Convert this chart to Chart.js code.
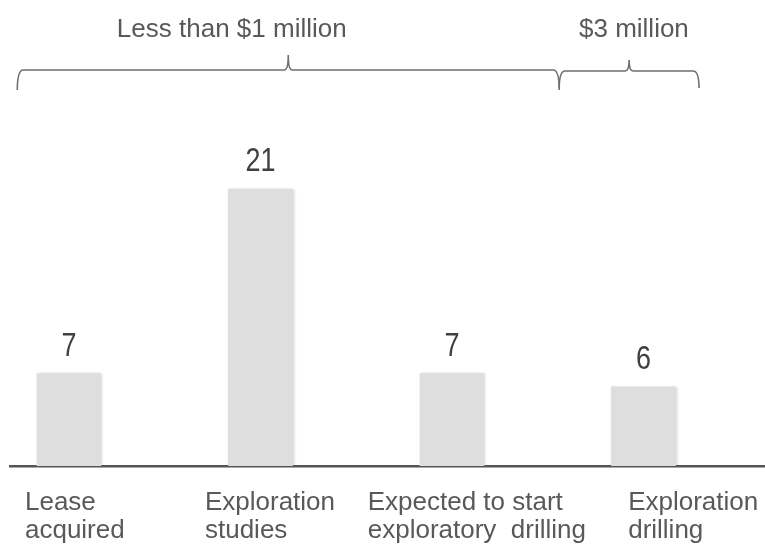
<!DOCTYPE html>
<html>
<head>
<meta charset="utf-8">
<script src="https://cdn.jsdelivr.net/npm/chart.js@4/dist/chart.umd.min.js"></script>
<style>
  html, body { margin: 0; padding: 0; background: #fff; }
  #wrap { width: 765px; height: 549px; position: relative; }
</style>
</head>
<body>
<div id="wrap"><canvas id="stageChart"></canvas></div>
<script>
// data
const stages = [
  ["Lease", "acquired"],
  ["Exploration", "studies"],
  ["Expected to start", "exploratory  drilling"],
  ["Exploration", "drilling"]
];
const counts = [7, 21, 7, 6];
const costGroups = ["Less than $1 million", "$3 million"];
const groupFirst = [0, 3];
const groupLast = [2, 3];

// look
const textColor = "#595959";
const fontFamily = "'Liberation Sans', Arial, sans-serif";
const labelShift = [-0.23, -0.29, -0.44, -0.08]; // left edge of each x label, relative to its bar
const bracketReach = [[-0.27, 0.56], [-0.44, 0.29]];
const groupLabelShift = [-0.15, -0.05];

// bar shadow + value labels + cost brackets
const decorations = {
  id: "decorations",
  beforeDatasetsDraw(chart) {
    const ctx = chart.ctx;
    ctx.save();
    ctx.shadowColor = "rgba(0,0,0,0.2)";
    ctx.shadowBlur = 3;
    ctx.shadowOffsetX = 1;
  },
  afterDatasetsDraw(chart) {
    const ctx = chart.ctx;
    ctx.restore();
    const x = chart.scales.x;
    const meta = chart.getDatasetMeta(0);

    ctx.save();
    ctx.fillStyle = "#404040";
    ctx.font = "27px " + fontFamily;
    ctx.textAlign = "center";
    ctx.textBaseline = "alphabetic";
    meta.data.forEach((bar, i) => {
      // numbers look a little taller than wide in the original
      ctx.save();
      ctx.translate(bar.x, bar.y - 18);
      ctx.scale(1, 1.22);
      ctx.fillText(String(counts[i]), 0, 0);
      ctx.restore();
    });

    ctx.strokeStyle = "#6f6f6f";
    ctx.lineWidth = 1.6;
    costGroups.forEach((name, g) => {
      const x1 = x.getPixelForValue(groupFirst[g] + bracketReach[g][0]);
      const x2 = x.getPixelForValue(groupLast[g] + bracketReach[g][1]);
      const mid = (x1 + x2) / 2;
      const y = g === 0 ? 70 : 71;
      const tip = g === 0 ? 15 : 11;
      const drop = g === 0 ? 20 : 17;
      ctx.beginPath();
      ctx.moveTo(x1, y + drop);
      ctx.quadraticCurveTo(x1, y, x1 + 6, y);
      ctx.lineTo(mid - 4, y);
      ctx.quadraticCurveTo(mid, y, mid, y - tip);
      ctx.quadraticCurveTo(mid, y, mid + 4, y);
      ctx.lineTo(x2 - 6, y);
      ctx.quadraticCurveTo(x2, y, x2, y + drop);
      ctx.stroke();

      ctx.fillStyle = textColor;
      ctx.font = "26px " + fontFamily;
      ctx.textBaseline = "middle";
      ctx.fillText(name, x.getPixelForValue((groupFirst[g] + groupLast[g]) / 2 + groupLabelShift[g]), 30);
    });
    ctx.restore();
  }
};

const ctx = document.getElementById("stageChart").getContext("2d");
new Chart(ctx, {
  type: "bar",
  data: {
    datasets: [{
      data: counts.map((v, i) => ({ x: i, y: v })),
      backgroundColor: "#dedede",
      borderWidth: 0,
      barThickness: 64
    }]
  },
  options: {
    responsive: true,
    maintainAspectRatio: false,
    animation: false,
    layout: { padding: { top: 110, left: 10, right: 0, bottom: 0 } },
    plugins: { legend: { display: false }, tooltip: { enabled: false } },
    scales: {
      x: {
        type: "linear",
        bounds: "data",
        offset: false,
        min: -0.3081,
        max: 3.6345,
        z: 1,
        grid: { display: false, offset: false },
        border: { display: true, color: "#555555", width: 2.5 },
        afterBuildTicks: (scale) => {
          scale.ticks = stages.map((s, i) => ({ value: i + labelShift[i] }));
        },
        afterFit: (scale) => {
          scale.height = 83;
          scale.paddingLeft = 0;
          scale.paddingRight = 0;
        },
        ticks: {
          autoSkip: false,
          maxRotation: 0,
          minRotation: 0,
          align: "start",
          padding: 15,
          color: textColor,
          font: { family: fontFamily, size: 26, lineHeight: 1.08 },
          callback: (value, index) => stages[index]
        }
      },
      y: {
        display: false,
        bounds: "data",
        min: 0,
        max: 27
      }
    }
  },
  plugins: [decorations]
});
</script>
</body>
</html>
